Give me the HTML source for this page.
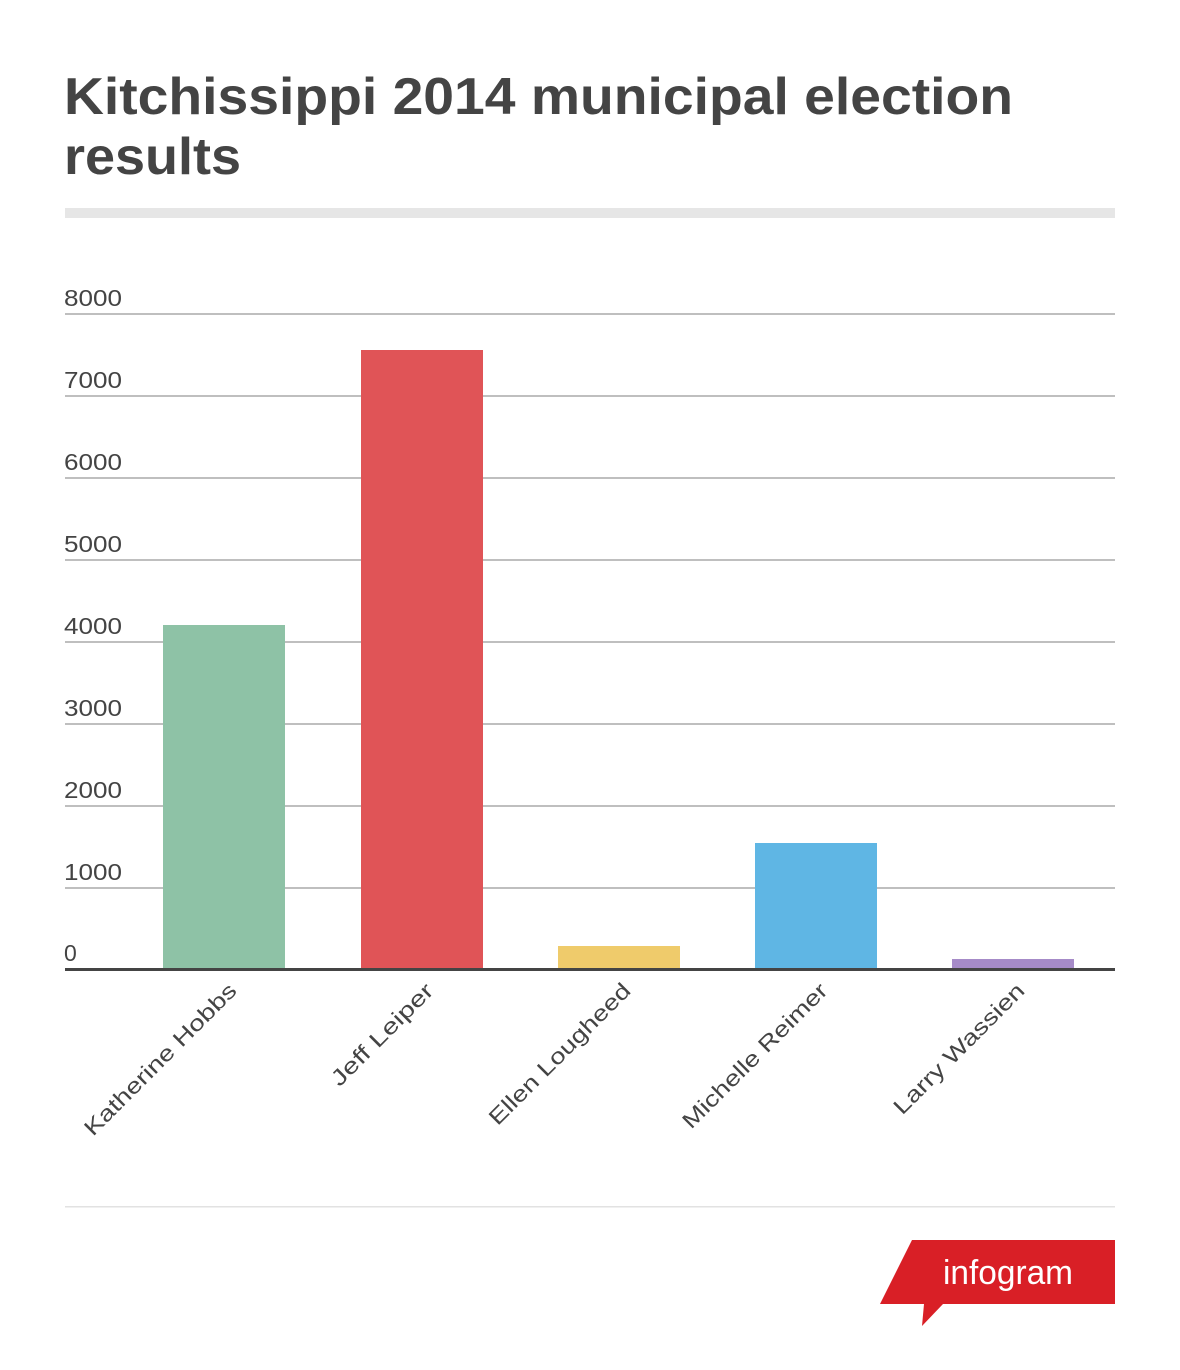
<!DOCTYPE html>
<html><head><meta charset="utf-8"><style>
body{margin:0;background:#fff;}
</style></head><body>
<svg width="1180" height="1365" xmlns="http://www.w3.org/2000/svg" font-family="Liberation Sans, sans-serif">
<rect width="1180" height="1365" fill="#fff"/>
<text x="64" y="114" font-size="52" font-weight="bold" fill="#444" textLength="949" lengthAdjust="spacingAndGlyphs">Kitchissippi 2014 municipal election</text>
<text x="64" y="174" font-size="52" font-weight="bold" fill="#444" textLength="177" lengthAdjust="spacingAndGlyphs">results</text>
<rect x="65" y="208" width="1050" height="10" fill="#e6e6e6"/>
<g stroke="#aaa" stroke-width="1.5">
<line x1="65" x2="1115" y1="314" y2="314"/>
<line x1="65" x2="1115" y1="396" y2="396"/>
<line x1="65" x2="1115" y1="478" y2="478"/>
<line x1="65" x2="1115" y1="560" y2="560"/>
<line x1="65" x2="1115" y1="642" y2="642"/>
<line x1="65" x2="1115" y1="724" y2="724"/>
<line x1="65" x2="1115" y1="806" y2="806"/>
<line x1="65" x2="1115" y1="888" y2="888"/>
</g>
<g font-size="23" fill="#444">
<text x="64" y="306" textLength="58" lengthAdjust="spacingAndGlyphs">8000</text>
<text x="64" y="388" textLength="58" lengthAdjust="spacingAndGlyphs">7000</text>
<text x="64" y="470" textLength="58" lengthAdjust="spacingAndGlyphs">6000</text>
<text x="64" y="552" textLength="58" lengthAdjust="spacingAndGlyphs">5000</text>
<text x="64" y="634" textLength="58" lengthAdjust="spacingAndGlyphs">4000</text>
<text x="64" y="716" textLength="58" lengthAdjust="spacingAndGlyphs">3000</text>
<text x="64" y="798" textLength="58" lengthAdjust="spacingAndGlyphs">2000</text>
<text x="64" y="880" textLength="58" lengthAdjust="spacingAndGlyphs">1000</text>
<text x="64" y="961">0</text>
</g>
<rect x="163" y="625" width="122" height="344" fill="#8ec2a6"/>
<rect x="361" y="350" width="122" height="619" fill="#e05457"/>
<rect x="558" y="946" width="122" height="23" fill="#efcb6b"/>
<rect x="755" y="843" width="122" height="126" fill="#5fb6e4"/>
<rect x="952" y="959" width="122" height="10" fill="#a68bc8"/>
<rect x="65" y="968" width="1050" height="3" fill="#444"/>
<g font-size="22" fill="#444" text-anchor="end">
<text transform="translate(238,992) rotate(-45)" textLength="205" lengthAdjust="spacingAndGlyphs">Katherine Hobbs</text>
<text transform="translate(435,992) rotate(-45)" textLength="135" lengthAdjust="spacingAndGlyphs">Jeff Leiper</text>
<text transform="translate(632,992) rotate(-45)" textLength="190" lengthAdjust="spacingAndGlyphs">Ellen Lougheed</text>
<text transform="translate(829,992) rotate(-45)" textLength="195" lengthAdjust="spacingAndGlyphs">Michelle Reimer</text>
<text transform="translate(1026,992) rotate(-45)" textLength="175" lengthAdjust="spacingAndGlyphs">Larry Wassien</text>
</g>
<rect x="65" y="1206" width="1050" height="1.5" fill="#e2e2e2"/>
<polygon points="912,1240 1115,1240 1115,1304 943,1304 922,1326 924,1304 880,1304" fill="#d91f26"/>
<text x="1008" y="1284" font-size="34" fill="#fff" text-anchor="middle" textLength="130" lengthAdjust="spacingAndGlyphs">infogram</text>
</svg>
</body></html>
